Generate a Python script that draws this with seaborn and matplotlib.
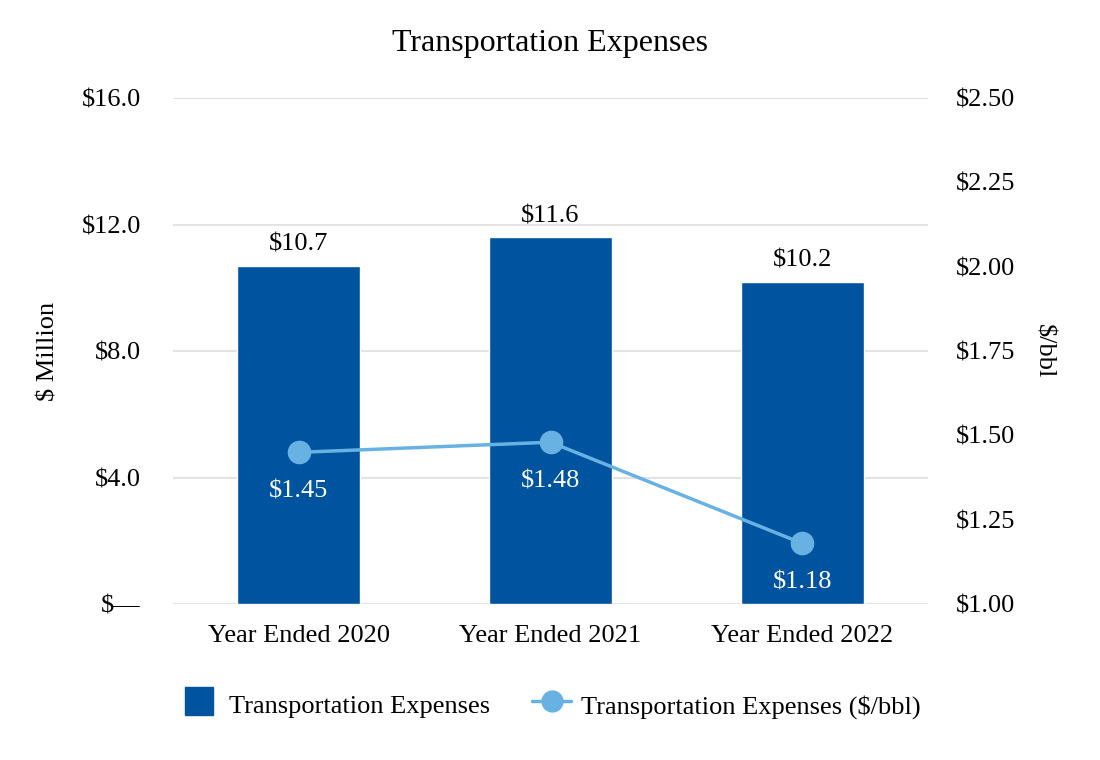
import matplotlib
matplotlib.use("Agg")
import matplotlib.pyplot as plt
import seaborn as sns
import pandas as pd
from matplotlib.ticker import FuncFormatter
from matplotlib.lines import Line2D

categories = ["Year Ended 2020", "Year Ended 2021", "Year Ended 2022"]
expenses_musd = [10.7, 11.6, 10.2]
per_bbl = [1.45, 1.48, 1.18]
left_ticks = [0, 4, 8, 12, 16]
right_ticks = [1.00, 1.25, 1.50, 1.75, 2.00, 2.25, 2.50]

bar_color = "#00539F"
line_color = "#68B2E3"
FS = 19

sns.set_theme(style="white")
plt.rcParams["font.family"] = ["Liberation Serif", "DejaVu Serif"]
plt.rcParams["text.color"] = "black"
plt.rcParams["axes.labelcolor"] = "black"

df = pd.DataFrame({"cat": categories, "exp": expenses_musd, "bbl": per_bbl})

fig = plt.figure(figsize=(11, 7.6), dpi=100)
ax = fig.add_axes([0.157, 0.205, 0.687, 0.666])

sns.barplot(data=df, x="cat", y="exp", color=bar_color, width=0.49,
            saturation=1, ax=ax, zorder=3)
if ax.get_legend() is not None:
    ax.get_legend().remove()
ax.set_ylim(0, 16)
ax.set_yticks(left_ticks)
ax.yaxis.set_major_formatter(FuncFormatter(lambda v, p: "$\u2014" if v == 0 else f"${v:.1f}"))
ax.grid(axis="y", color="#e3e3e3", linewidth=1.5, zorder=0)
ax.set_axisbelow(True)
for s in ax.spines.values():
    s.set_visible(False)
ax.tick_params(axis="both", length=0, labelsize=FS, colors="black")
ax.tick_params(axis="x", pad=15)
ax.tick_params(axis="y", pad=23)
ax.set_xlabel("")
ax.set_ylabel("$ Million", fontsize=FS, labelpad=16)

for i, v in enumerate(expenses_musd):
    ax.annotate(f"${v:.1f}", (i, v), xytext=(0, 7), textcoords="offset points",
                ha="center", va="bottom", fontsize=FS, color="black")

ax2 = ax.twinx()
xs = list(range(len(categories)))
ax2.plot(xs, per_bbl, color=line_color, linewidth=2.5, marker="o", markersize=16,
         zorder=5)
ax2.set_ylim(1.0, 2.5)
ax2.set_yticks(right_ticks)
ax2.yaxis.set_major_formatter(FuncFormatter(lambda v, p: f"${v:.2f}"))
for s in ax2.spines.values():
    s.set_visible(False)
ax2.tick_params(axis="y", length=0, labelsize=FS, colors="black", pad=20)
ax2.set_ylabel("$/bbl", fontsize=FS, rotation=270, labelpad=28)
ax2.grid(False)
for i, v in enumerate(per_bbl):
    ax2.annotate(f"${v:.2f}", (i, v), xytext=(0, -20), textcoords="offset points",
                 ha="center", va="top", fontsize=FS, color="white")

ax.set_xlim(-0.5, 2.5)

fig.suptitle("Transportation Expenses", fontsize=23, y=0.962, color="black")

handles = [
    Line2D([], [], linestyle="none", marker="s", markersize=20, color=bar_color),
    Line2D([], [], color=line_color, linewidth=2.5, marker="o", markersize=15),
]
labels = ["Transportation Expenses", "Transportation Expenses ($/bbl)"]
fig.legend(handles, labels, loc="center", bbox_to_anchor=(0.5, 0.073), ncol=2,
           frameon=False, fontsize=FS, handlelength=1.5, handleheight=1.4,
           handletextpad=0.35, columnspacing=1.6)

fig.savefig("out.png", dpi=100)
